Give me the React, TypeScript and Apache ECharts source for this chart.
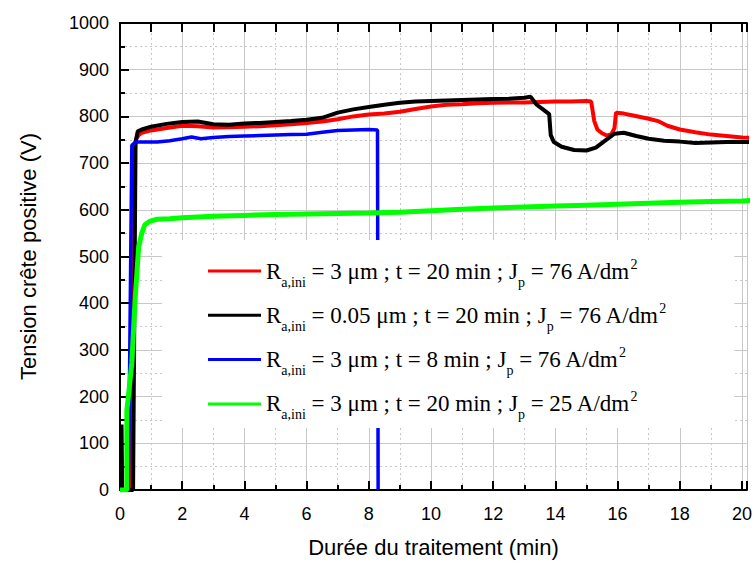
import React, { useEffect, useRef } from "react";
import * as echarts from "echarts";

const seriesNames = [
  "R a,ini = 3 μm ; t = 20 min ; J p = 76 A/dm2",
  "R a,ini = 0.05 μm ; t = 20 min ; J p = 76 A/dm2",
  "R a,ini = 3 μm ; t = 8 min ; J p = 76 A/dm2",
  "R a,ini = 3 μm ; t = 20 min ; J p = 25 A/dm2",
];

const legendParts = [
  ["R", "a,ini", " = 3 μm ; t = 20 min ; J", "p", " = 76 A/dm", "2"],
  ["R", "a,ini", " = 0.05 μm ; t = 20 min ; J", "p", " = 76 A/dm", "2"],
  ["R", "a,ini", " = 3 μm ; t = 8 min ; J", "p", " = 76 A/dm", "2"],
  ["R", "a,ini", " = 3 μm ; t = 20 min ; J", "p", " = 25 A/dm", "2"],
];

const seriesColors = ["#ff0000", "#000000", "#0000ff", "#00ff00"];

const redData = [
  [0, 0], [0.33, 0], [0.44, 717], [0.52, 752], [0.6, 760], [0.7, 765], [1.0, 770], [1.5, 775],
  [2.0, 780], [2.5, 779], [3.0, 776], [3.5, 777], [4.0, 778], [4.5, 779], [5.0, 781],
  [5.5, 783], [6.0, 786], [6.5, 789], [7.0, 794], [7.5, 800], [8.0, 804], [8.5, 806],
  [9.0, 810], [9.5, 816], [10.0, 821], [10.5, 825], [11.0, 826], [11.5, 828], [12.0, 829],
  [12.5, 830], [13.0, 830], [13.5, 831], [14.0, 832], [14.5, 832], [15.0, 833], [15.15, 832],
  [15.25, 790], [15.35, 772], [15.5, 764], [15.65, 759], [15.8, 762], [15.9, 775], [15.95, 808],
  [16.2, 806], [16.5, 802], [17.0, 795], [17.3, 790], [17.6, 780], [18.0, 772], [18.5, 766],
  [19.0, 761], [19.5, 758], [20.0, 755], [20.3, 754],
];

const blackData = [
  [0, 0], [0.04, 0], [0.05, 140], [0.07, 0], [0.42, 0], [0.5, 745], [0.57, 768], [0.7, 772],
  [1.0, 778], [1.5, 784], [2.0, 788], [2.5, 789], [3.0, 783], [3.5, 782], [4.0, 785],
  [4.5, 786], [5.0, 788], [5.5, 790], [6.0, 793], [6.5, 797], [7.0, 808], [7.5, 815],
  [8.0, 820], [8.5, 825], [9.0, 829], [9.5, 832], [10.0, 833], [10.5, 834], [11.0, 835],
  [11.5, 836], [12.0, 837], [12.5, 838], [13.0, 840], [13.2, 842], [13.4, 825], [13.6, 815],
  [13.8, 805], [13.85, 760], [13.95, 745], [14.2, 735], [14.6, 728], [15.0, 727], [15.3, 733],
  [15.6, 748], [15.9, 763], [16.2, 765], [16.6, 758], [17.0, 752], [17.5, 748], [18.0, 746],
  [18.5, 743], [19.0, 744], [19.5, 745], [20.0, 745], [20.3, 745],
];

const blueData = [
  [0, 0], [0.27, 0], [0.38, 738], [0.5, 745], [0.8, 745], [1.2, 745], [1.6, 748], [2.0, 752],
  [2.3, 756], [2.6, 752], [3.0, 755], [3.5, 757], [4.0, 758], [4.5, 759], [5.0, 760],
  [5.5, 761], [6.0, 762], [6.5, 766], [7.0, 770], [7.5, 771], [8.0, 772], [8.28, 771], [8.3, 0],
];

const greenData = [
  [0, 0], [0.22, 0], [0.22, 170], [0.3, 220], [0.38, 272], [0.49, 413], [0.6, 520], [0.7, 550],
  [0.8, 568], [0.95, 575], [1.2, 580], [1.6, 581], [2.0, 583], [3.0, 586], [4.0, 588],
  [5.0, 590], [6.0, 591], [7.0, 592], [8.0, 593], [9.0, 595], [10.0, 598], [11.0, 601],
  [12.0, 604], [13.0, 606], [14.0, 608], [15.0, 610], [16.0, 612], [17.0, 614], [18.0, 616],
  [19.0, 618], [20.0, 619], [20.3, 620],
];

const allData = [redData, blackData, blueData, greenData];
const lineWidths = [4, 4, 3.5, 5];

const xTitle = "Durée du traitement (min)";
const yTitle = "Tension crête positive (V)";

const SANS = "'Liberation Sans', Arial, sans-serif";
const SERIF = "'Liberation Serif', 'Times New Roman', serif";

export default function App() {
  const ref = useRef<HTMLDivElement>(null);

  useEffect(() => {
    if (!ref.current) return;
    const chart = echarts.init(ref.current, null, { renderer: "svg" });
    const gridColor = "#c8c8c8";
    const option: any = {
      animation: false,
      backgroundColor: "#ffffff",
      grid: { left: 120, top: 23, bottom: 68, right: 0 },
      xAxis: [
        {
          type: "value",
          position: "bottom",
          min: 0,
          max: 20.16,
          interval: 2,
          name: xTitle,
          nameLocation: "middle",
          nameGap: 46,
          nameTextStyle: { fontFamily: SANS, fontSize: 22, color: "#000" },
          axisLine: { show: true, onZero: false, lineStyle: { color: "#000", width: 2 } },
          axisTick: { show: true, inside: true, length: 9, lineStyle: { color: "#000", width: 2 } },
          minorTick: { show: true, splitNumber: 2, length: 5, lineStyle: { color: "#000", width: 2 } },
          axisLabel: { fontFamily: SANS, fontSize: 18, color: "#000", margin: 15, formatter: (v: number) => String(v) },
          splitLine: { show: true, lineStyle: { color: gridColor, width: 1 } },
          minorSplitLine: { show: true, lineStyle: { color: gridColor, width: 1, type: [2, 3] } },
        },
        {
          type: "value",
          position: "top",
          min: 0,
          max: 20.16,
          interval: 1,
          axisLine: { show: true, onZero: false, lineStyle: { color: "#000", width: 2 } },
          axisTick: { show: true, inside: true, length: 9, lineStyle: { color: "#000", width: 2 } },
          axisLabel: { show: false },
          splitLine: { show: false },
        },
      ],
      yAxis: {
        type: "value",
        min: 0,
        max: 1000,
        interval: 100,
        name: yTitle,
        nameLocation: "middle",
        nameGap: 81,
        nameTextStyle: { fontFamily: SANS, fontSize: 22, color: "#000" },
        axisLine: { show: true, onZero: false, lineStyle: { color: "#000", width: 2 } },
        axisTick: { show: true, inside: true, length: 9, lineStyle: { color: "#000", width: 2 } },
        minorTick: { show: true, splitNumber: 2, length: 5, lineStyle: { color: "#000", width: 2 } },
        axisLabel: { fontFamily: SANS, fontSize: 18, color: "#000", margin: 11, formatter: (v: number) => String(v) },
        splitLine: { show: true, lineStyle: { color: gridColor, width: 1 } },
        minorSplitLine: { show: true, lineStyle: { color: gridColor, width: 1, type: [2, 3] } },
      },
      legend: {
        orient: "vertical",
        left: 162,
        top: 240,
        z: 20,
        padding: [13, 68, 6, 46],
        itemGap: 8.3,
        itemWidth: 53,
        itemHeight: 3,
        icon: "rect",
        align: "left",
        backgroundColor: "#ffffff",
        data: seriesNames,
        textStyle: {
          fontFamily: SERIF,
          fontSize: 23,
          color: "#000",
          rich: {
            n: { fontFamily: SERIF, fontSize: 23, color: "#000", lineHeight: 36, verticalAlign: "middle" },
            s: { fontFamily: SERIF, fontSize: 14, color: "#000", lineHeight: 14, verticalAlign: "bottom" },
            u: { fontFamily: SERIF, fontSize: 14, color: "#000", lineHeight: 14, verticalAlign: "top", padding: [4, 0, 0, 0] },
          },
        },
        formatter: (name: string) => {
          const i = seriesNames.indexOf(name);
          const p = legendParts[i];
          return `{n|${p[0]}}{s|${p[1]}}{n|${p[2]}}{s|${p[3]}}{n|${p[4]}}{u|${p[5]}}`;
        },
      },
      series: seriesNames.map((name, i) => ({
        name,
        type: "line",
        xAxisIndex: 0,
        showSymbol: false,
        symbol: "none",
        data: allData[i],
        color: seriesColors[i],
        lineStyle: { color: seriesColors[i], width: lineWidths[i] },
        z: 2 + i,
      })),
    };
    chart.setOption(option);
    return () => chart.dispose();
  }, []);

  return (
    <div
      ref={ref}
      style={{ position: "absolute", left: 0, top: 0, width: 755, height: 563 }}
    />
  );
}
